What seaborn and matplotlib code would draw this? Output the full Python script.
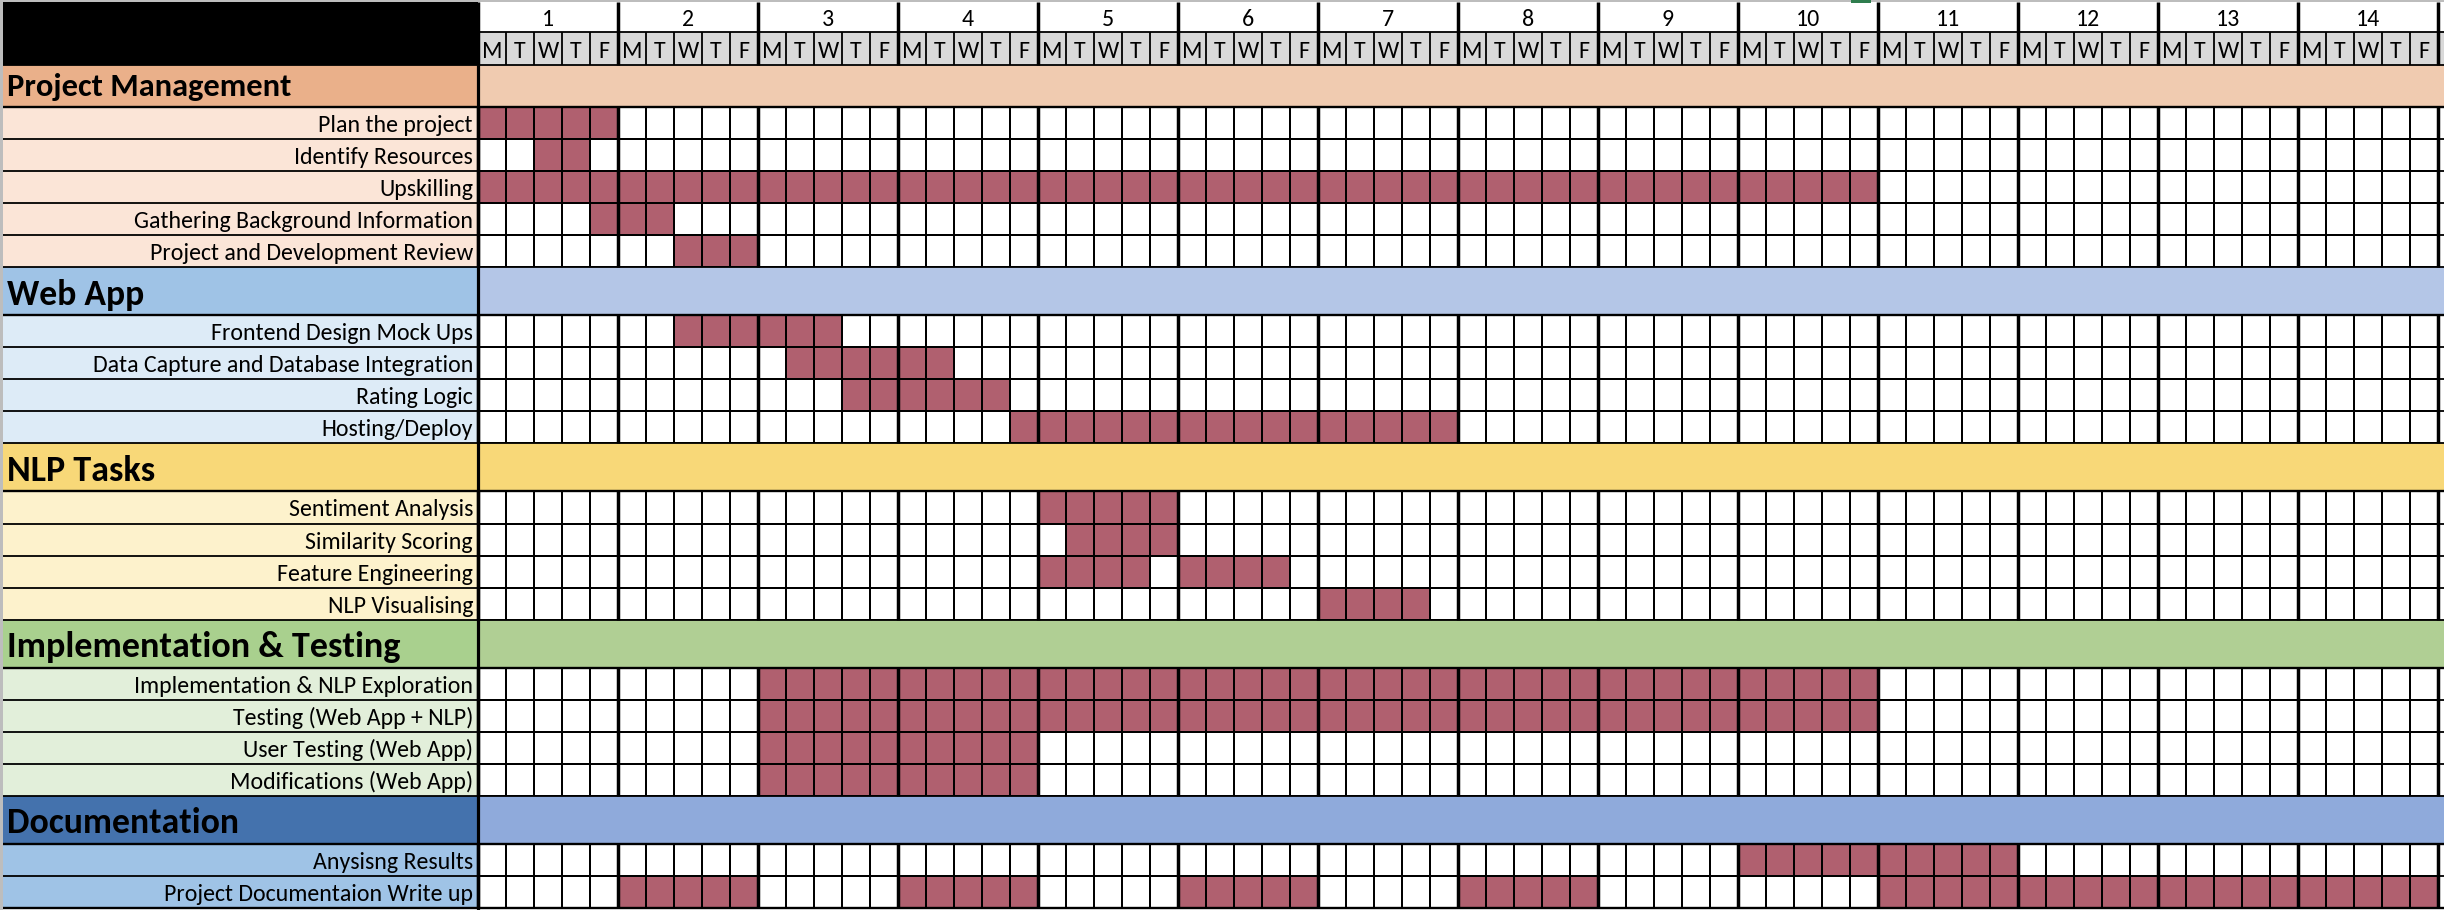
import numpy as np
import pandas as pd
import seaborn as sns
import matplotlib
matplotlib.use("Agg")
import matplotlib.pyplot as plt
from matplotlib.colors import ListedColormap
from matplotlib.patches import Rectangle
from matplotlib import font_manager

# ---------------- data ----------------
weeks = list(range(1, 15))
day_letters = ["M", "T", "W", "T", "F"]

section_names = ["Project Management", "Web App", "NLP Tasks",
                 "Implementation & Testing", "Documentation"]

pm_tasks = ["Plan the project", "Identify Resources", "Upskilling",
            "Gathering Background Information", "Project and Development Review"]
pm_spans = [[(0, 5)], [(2, 2)], [(0, 50)], [(4, 3)], [(7, 3)]]  # (start day, number of days)

web_tasks = ["Frontend Design Mock Ups", "Data Capture and Database Integration",
             "Rating Logic", "Hosting/Deploy"]
web_spans = [[(7, 6)], [(11, 6)], [(13, 6)], [(19, 16)]]

nlp_tasks = ["Sentiment Analysis", "Similarity Scoring", "Feature Engineering",
             "NLP Visualising"]
nlp_spans = [[(20, 5)], [(21, 4)], [(20, 4), (25, 4)], [(30, 4)]]

impl_tasks = ["Implementation & NLP Exploration", "Testing (Web App + NLP)",
              "User Testing (Web App)", "Modifications (Web App)"]
impl_spans = [[(10, 40)], [(10, 40)], [(10, 10)], [(10, 10)]]

doc_tasks = ["Anysisng Results", "Project Documentaion Write up"]
doc_spans = [[(45, 10)], [(5, 5), (15, 5), (25, 5), (35, 5), (50, 20)]]

section_tasks = [pm_tasks, web_tasks, nlp_tasks, impl_tasks, doc_tasks]
section_spans = [pm_spans, web_spans, nlp_spans, impl_spans, doc_spans]

# ---------------- style ----------------
label_colors = ["#eab08a", "#9fc3e6", "#f8d878", "#a9d08e", "#4472ad"]
band_colors = ["#f0cbb0", "#b4c6e7", "#f8d878", "#b0cf94", "#8faadb"]
task_label_colors = ["#fbe5d7", "#ddebf7", "#fdf2cc", "#e2efda", "#9fc3e6"]
FILL = "#b0606f"
GREY = "#d9d9d9"

sns.set_style("white")
available = {f.name for f in font_manager.fontManager.ttflist}
FONT = next(f for f in ["Carlito", "Lato", "Open Sans", "DejaVu Sans"] if f in available)
plt.rcParams["font.family"] = [FONT, "DejaVu Sans"]

W, H = 2444, 910
LABEL_W = 478
DAY_W = 28
N_DAYS = len(weeks) * len(day_letters)
GRID_X1 = LABEL_W + N_DAYS * DAY_W
TOP = 2
WEEK_H = 30
DAYROW_H = 33
HEADER_H = [42, 48, 48, 48, 48]
TASK_H = 32.05
WEEK_LW = 2.5
# measured on-screen widths (px) of some labels, used to size the fonts
HEAD_W = [285, 137, 149, 393, 232]
TASK_W = {"Plan the project": 152.7, "Identify Resources": 178, "Upskilling": 94,
          "Implementation & NLP Exploration": 338, "Testing (Web App + NLP)": 242,
          "User Testing (Web App)": 234}

fig = plt.figure(figsize=(W / 100, H / 100), dpi=100)
renderer = fig.canvas.get_renderer()


def px_axes(x0, y0, x1, y1, z=1):
    return fig.add_axes([x0 / W, 1 - y1 / H, (x1 - x0) / W, (y1 - y0) / H], zorder=z)


bg = px_axes(0, 0, W, H, z=0)
bg.set_xlim(0, W)
bg.set_ylim(H, 0)
bg.axis("off")


def fit_size(text, target, weight="normal", base=16.0):
    t = bg.text(0, 0, text, fontsize=base, fontweight=weight)
    w = t.get_window_extent(renderer=renderer).width
    t.remove()
    return base * target / w


TASK_FS = float(np.mean([fit_size(k, v) for k, v in TASK_W.items()]))
HEAD_FS = [fit_size(n, w, weight="bold") for n, w in zip(section_names, HEAD_W)]

ov = px_axes(0, 0, W, H, z=10)
ov.set_xlim(0, W)
ov.set_ylim(H, 0)
ov.axis("off")
ov.patch.set_alpha(0)

# window border
bg.add_patch(Rectangle((0, 0), W, TOP, color="#bdbdbd", lw=0))
bg.add_patch(Rectangle((0, 0), 2.5, H, color="#bdbdbd", lw=0))
bg.add_patch(Rectangle((1851, 0), 20, TOP + 0.5, color="#2f7d4e", lw=0))

# ---------------- header rows ----------------
hy0 = TOP
hy1 = TOP + WEEK_H + DAYROW_H
bg.add_patch(Rectangle((2.5, hy0), LABEL_W - 2.5, hy1 - hy0, color="black", lw=0))
bg.add_patch(Rectangle((LABEL_W, hy0 + WEEK_H), W - LABEL_W, DAYROW_H, color=GREY, lw=0))

hx = px_axes(LABEL_W, hy0, GRID_X1, hy1, z=5)
hx.set_xlim(0, N_DAYS)
hx.set_ylim(WEEK_H + DAYROW_H, 0)
hx.axis("off")
hx.patch.set_alpha(0)
for i, wk in enumerate(weeks):
    hx.text(i * len(day_letters) + len(day_letters) / 2, WEEK_H - 6, str(wk),
            ha="center", va="baseline", fontsize=TASK_FS, color="black")
for d in range(N_DAYS):
    hx.text(d + 0.5, WEEK_H + DAYROW_H - 7.5, day_letters[d % len(day_letters)],
            ha="center", va="baseline", fontsize=TASK_FS, color="black")
hx.vlines(np.arange(N_DAYS + 1), WEEK_H, WEEK_H + DAYROW_H, colors="black", lw=1.3,
          clip_on=False)
hx.vlines(np.arange(0, N_DAYS + 1, len(day_letters)), 0, WEEK_H + DAYROW_H,
          colors="black", lw=WEEK_LW, clip_on=False)
ov.hlines([hy0 + WEEK_H], LABEL_W, W, colors="black", lw=1.3)

# ---------------- sections ----------------
y = hy1
row_lines = [hy1]
section_lines = []
for s, name in enumerate(section_names):
    hh = HEADER_H[s]
    bg.add_patch(Rectangle((2.5, y), LABEL_W - 2.5, hh, color=label_colors[s], lw=0))
    bg.add_patch(Rectangle((LABEL_W, y), W - LABEL_W, hh, color=band_colors[s], lw=0))
    bg.text(7.3, y + hh - 10.7, name, fontsize=HEAD_FS[s], fontweight="bold",
            ha="left", va="baseline", color="black")
    y += hh
    section_lines.append(y)
    tasks = section_tasks[s]
    spans = section_spans[s]
    n = len(tasks)
    bg.add_patch(Rectangle((2.5, y), LABEL_W - 2.5, n * TASK_H,
                           color=task_label_colors[s], lw=0))
    for i, t in enumerate(tasks):
        bg.text(LABEL_W - 5, y + (i + 1) * TASK_H - 7, t, fontsize=TASK_FS,
                ha="right", va="baseline", color="black")
        row_lines.append(y + (i + 1) * TASK_H)

    mat = np.zeros((n, N_DAYS))
    for i, sp in enumerate(spans):
        for start, length in sp:
            mat[i, start:start + length] = 1
    cols = [f"W{weeks[d // 5]}{day_letters[d % 5]}" for d in range(N_DAYS)]
    df = pd.DataFrame(mat, index=tasks, columns=cols)
    ax = px_axes(LABEL_W, y, GRID_X1, y + n * TASK_H, z=2)
    sns.heatmap(df, ax=ax, cmap=ListedColormap(["white", FILL]), vmin=0, vmax=1,
                cbar=False, linewidths=1.4, linecolor="black",
                xticklabels=False, yticklabels=False)
    ax.set_xlabel("")
    ax.set_ylabel("")
    ax.vlines(np.arange(0, N_DAYS + 1, len(day_letters)), 0, n, colors="black",
              lw=WEEK_LW, clip_on=False)
    y += n * TASK_H

# horizontal row lines across the sheet
ov.hlines(row_lines, 2.5, W, colors="black", lw=1.3)
ov.hlines(section_lines, 2.5, W, colors="black", lw=1.7)
ov.hlines([y], 2.5, W, colors="black", lw=1.7)
# divider between labels and grid
ov.vlines([LABEL_W], hy1, H, colors="black", lw=2.3)

fig.savefig("out.png", dpi=100)
